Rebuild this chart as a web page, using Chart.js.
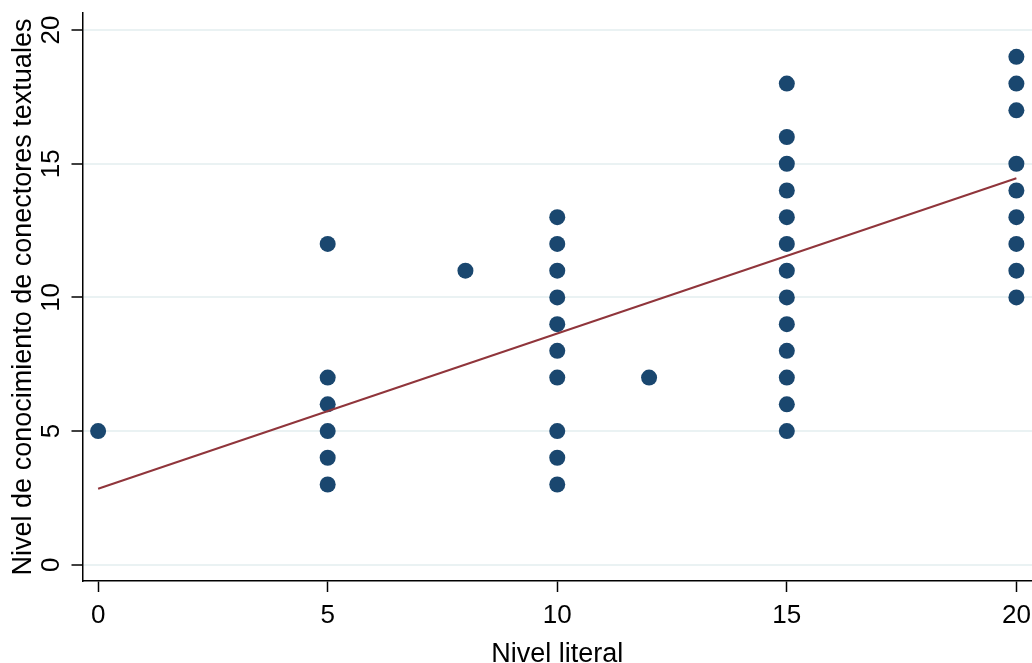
<!DOCTYPE html>
<html>
<head>
<meta charset="utf-8">
<script src="https://cdn.jsdelivr.net/npm/chart.js@4/dist/chart.umd.min.js"></script>
<style>
  html, body { margin: 0; padding: 0; background: #ffffff; }
  #wrap { width: 1032px; height: 663px; }
</style>
</head>
<body>
<div id="wrap"><canvas id="scatterChart" width="1032" height="663"></canvas></div>
<script>
const nivelLiteral = [
  0,
  5, 5, 5, 5, 5, 5,
  8,
  10, 10, 10, 10, 10, 10, 10, 10, 10, 10,
  12,
  15, 15, 15, 15, 15, 15, 15, 15, 15, 15, 15, 15, 15,
  20, 20, 20, 20, 20, 20, 20, 20, 20
];
const nivelConectores = [
  5,
  3, 4, 5, 6, 7, 12,
  11,
  3, 4, 5, 7, 8, 9, 10, 11, 12, 13,
  7,
  5, 6, 7, 8, 9, 10, 11, 12, 13, 14, 15, 16, 18,
  10, 11, 12, 13, 14, 15, 17, 18, 19
];

// fitted line end points
const fitX = [0, 20];
const fitY = [2.84, 14.46];

const xTicks = [0, 5, 10, 15, 20];
const yTicks = [0, 5, 10, 15, 20];

const FONT = "'Liberation Sans', Arial, sans-serif";

const points = nivelLiteral.map((x, i) => ({ x: x, y: nivelConectores[i] }));
const fitLine = fitX.map((x, i) => ({ x: x, y: fitY[i] }));

const ctx = document.getElementById("scatterChart").getContext("2d");
const myChart = new Chart(ctx, {
  type: "scatter",
  data: {
    datasets: [
      {
        type: "line",
        data: fitLine,
        borderColor: "#90353b",
        borderWidth: 2,
        pointRadius: 0,
        fill: false,
        order: 0
      },
      {
        data: points,
        backgroundColor: "#1a476f",
        borderColor: "#1a476f",
        borderWidth: 0,
        pointRadius: 8,
        order: 1
      }
    ]
  },
  options: {
    responsive: false,
    devicePixelRatio: 1,
    animation: false,
    layout: { autoPadding: false, padding: { top: 13, right: 0, left: 0, bottom: 0 } },
    plugins: {
      legend: { display: false },
      tooltip: { enabled: false }
    },
    scales: {
      x: {
        type: "linear",
        min: -0.34,
        max: 20.34,
        afterBuildTicks: scale => { scale.ticks = xTicks.map(v => ({ value: v })); },
        afterFit: scale => {
          scale.height = 82;
          scale.paddingLeft = 0;
          scale.paddingRight = 0;
        },
        border: { color: "#000000", width: 1.5 },
        grid: {
          drawOnChartArea: false,
          tickLength: 11,
          tickColor: "#000000",
          tickWidth: 1.5
        },
        ticks: {
          color: "#000000",
          font: { family: FONT, size: 26 },
          padding: 8,
          maxRotation: 0,
          minRotation: 0
        },
        title: {
          display: true,
          text: "Nivel literal",
          color: "#000000",
          font: { family: FONT, size: 27 },
          padding: { top: 0, bottom: -8 }
        }
      },
      y: {
        type: "linear",
        min: -0.61,
        max: 20.64,
        afterBuildTicks: scale => { scale.ticks = yTicks.map(v => ({ value: v })); },
        afterFit: scale => {
          scale.width = 82.5;
          scale.paddingTop = 0;
          scale.paddingBottom = 0;
        },
        border: { color: "#000000", width: 1.5 },
        grid: {
          color: "#eaf2f3",
          lineWidth: 2,
          tickLength: 11,
          tickColor: "#000000",
          tickWidth: 1.5
        },
        ticks: {
          color: "#000000",
          font: { family: FONT, size: 26 },
          padding: 5,
          minRotation: 90,
          maxRotation: 90,
          crossAlign: "center"
        },
        title: {
          display: true,
          text: "Nivel de conocimiento de conectores textuales",
          color: "#000000",
          font: { family: FONT, size: 27 },
          padding: { top: 7, bottom: 0 }
        }
      }
    }
  }
});
</script>
</body>
</html>
